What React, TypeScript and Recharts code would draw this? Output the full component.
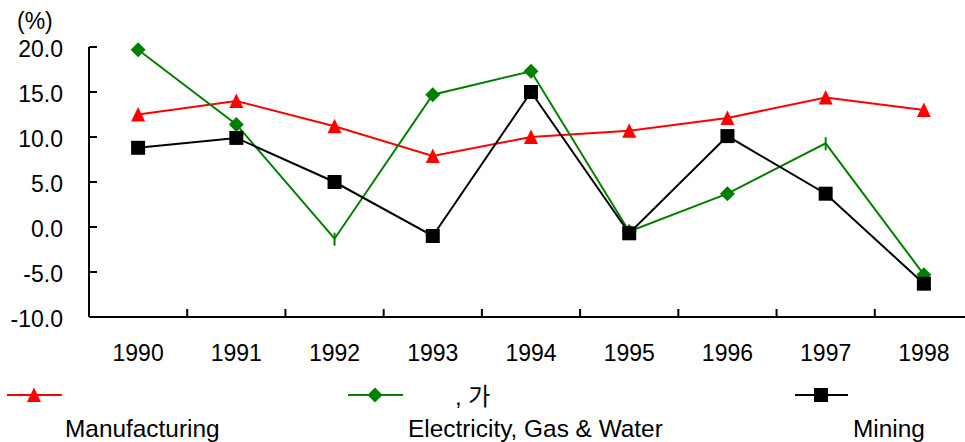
import { LineChart, Line, XAxis, YAxis } from 'recharts';

const years = ['1990', '1991', '1992', '1993', '1994', '1995', '1996', '1997', '1998'];
const manufacturing = [12.5, 14.0, 11.2, 7.9, 10.0, 10.7, 12.1, 14.4, 13.0];
const electricity = [19.7, 11.4, -1.3, 14.7, 17.3, -0.5, 3.7, 9.3, -5.3];
const mining = [8.8, 9.9, 5.0, -1.0, 15.0, -0.7, 10.1, 3.7, -6.3];
// points where the diamond did not print, only a thin tick
const electricityTickOnly = [2, 7];
const yTicks = [-10, -5, 0, 5, 10, 15, 20];

const seriesKo = ['', ', 가', ''];
const seriesEn = ['Manufacturing', 'Electricity, Gas & Water', 'Mining'];

const data = years.map((year, i) => ({
  year,
  manufacturing: manufacturing[i],
  electricity: electricity[i],
  mining: mining[i],
}));

const FONT = "'Liberation Sans', Arial, 'Noto Sans CJK KR', sans-serif";
const CHART_W = 975;
const CHART_H = 442;
const PLOT_LEFT = 89;
const PLOT_RIGHT = 2;
const HALF_STEP = (CHART_W - PLOT_LEFT - PLOT_RIGHT) / years.length / 2;

const Triangle = ({ cx, cy, color }: any) => (
  <polygon points={`${cx},${cy - 7.5} ${cx + 7},${cy + 7} ${cx - 7},${cy + 7}`} fill={color} />
);
const Diamond = ({ cx, cy, color }: any) => (
  <polygon points={`${cx},${cy - 7.5} ${cx + 7.5},${cy} ${cx},${cy + 7.5} ${cx - 7.5},${cy}`} fill={color} />
);
const Square = ({ cx, cy, color }: any) => (
  <rect x={cx - 7} y={cy - 7} width={14} height={14} fill={color} />
);

const YTick = ({ x, y, payload }: any) => (
  <g>
    <line x1={x + 26} x2={x + 34} y1={y} y2={y} stroke="#000" strokeWidth={2} />
    <text x={x} y={y} dy={10.3} textAnchor="end" fontSize={23} fontFamily={FONT} fill="#000">
      {Number(payload.value).toFixed(1)}
    </text>
  </g>
);

const XTick = ({ x, y, payload, index }: any) => (
  <g>
    {index < years.length - 1 && (
      <line x1={x + HALF_STEP} x2={x + HALF_STEP} y1={y} y2={y - 8} stroke="#000" strokeWidth={2} />
    )}
    <text x={x} y={y + 44} textAnchor="middle" fontSize={23} fontFamily={FONT} fill="#000">
      {payload.value}
    </text>
  </g>
);

const LegendBox = () => {
  const items = [
    { x1: 7, x2: 62, mx: 34, color: '#ff0000', M: Triangle, tx: 0, ex: 65 },
    { x1: 348, x2: 403, mx: 375, color: '#008000', M: Diamond, tx: 455, ex: 408 },
    { x1: 795, x2: 848, mx: 821, color: '#000000', M: Square, tx: 0, ex: 853 },
  ];
  return (
    <svg width={965} height={CHART_H} style={{ position: 'absolute', left: 0, top: 0, pointerEvents: 'none' }}>
      {items.map((it, i) => (
        <g key={i}>
          <line x1={it.x1} x2={it.x2} y1={395} y2={395} stroke={it.color} strokeWidth={2} />
          <it.M cx={it.mx} cy={395} color={it.color} />
          {seriesKo[i] && (
            <text x={it.tx} y={405} fontSize={24} fontFamily={FONT} fill="#000">
              {seriesKo[i]}
            </text>
          )}
          <text x={it.ex} y={437} fontSize={24.4} fontFamily={FONT} fill="#000">
            {seriesEn[i]}
          </text>
        </g>
      ))}
    </svg>
  );
};

const dotFor = (color: string, M: any, tickOnly: number[] = []) => (props: any) => {
  const { cx, cy, index } = props;
  if (tickOnly.includes(index)) {
    return <line key={index} x1={cx} x2={cx} y1={cy - 6} y2={cy + 7} stroke={color} strokeWidth={2} />;
  }
  return <M key={index} cx={cx} cy={cy} color={color} />;
};

export default function App() {
  return (
    <div style={{ position: 'absolute', left: 0, top: 0, width: 965, height: CHART_H, overflow: 'hidden', background: '#fff' }}>
      <div style={{ position: 'absolute', left: 0, top: 0, fontSize: 23, fontFamily: FONT, lineHeight: 1 }}>
        <span style={{ position: 'absolute', left: 17, top: 10, whiteSpace: 'nowrap' }}>(%)</span>
      </div>
      <LineChart
        width={CHART_W}
        height={CHART_H}
        data={data}
        margin={{ top: 47, right: PLOT_RIGHT, left: 0, bottom: 85 }}
      >
        <XAxis
          dataKey="year"
          height={40}
          interval={0}
          padding={{ left: HALF_STEP, right: HALF_STEP }}
          tickLine={false}
          tickSize={0}
          tickMargin={0}
          axisLine={{ stroke: '#000', strokeWidth: 2 }}
          tick={<XTick />}
        />
        <YAxis
          width={PLOT_LEFT}
          domain={[-10, 20]}
          ticks={yTicks}
          interval={0}
          tickLine={false}
          tickSize={0}
          tickMargin={26}
          axisLine={{ stroke: '#000', strokeWidth: 2 }}
          tick={<YTick />}
        />
        <Line
          dataKey="manufacturing"
          stroke="#ff0000"
          strokeWidth={2}
          dot={dotFor('#ff0000', Triangle)}
          isAnimationActive={false}
        />
        <Line
          dataKey="electricity"
          stroke="#008000"
          strokeWidth={2}
          dot={dotFor('#008000', Diamond, electricityTickOnly)}
          isAnimationActive={false}
        />
        <Line
          dataKey="mining"
          stroke="#000000"
          strokeWidth={2}
          dot={dotFor('#000000', Square)}
          isAnimationActive={false}
        />
      </LineChart>
      <LegendBox />
    </div>
  );
}
